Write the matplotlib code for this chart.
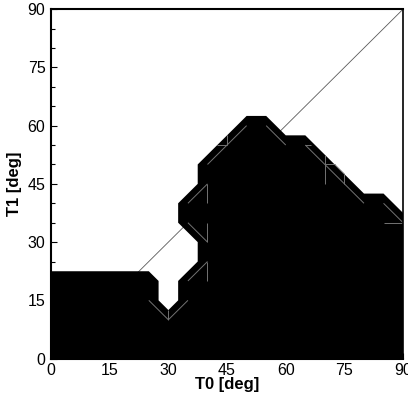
import numpy as np
import matplotlib
matplotlib.use('Agg')
import matplotlib.pyplot as plt
from matplotlib.collections import LineCollection
from matplotlib.ticker import MultipleLocator

plt.rcParams['font.family'] = ['Liberation Sans', 'DejaVu Sans']

# boundary of the filled region (T0, T1 in deg)
region_t0 = [0, 0, 25, 27.5, 27.5, 30, 32.5, 32.5, 37.5, 37.5, 32.5, 32.5, 37.5, 37.5,
             50, 55, 60, 65, 80, 85, 90, 90]
region_t1 = [0, 22.5, 22.5, 20, 15, 12.5, 15, 20, 25, 30, 35, 40, 45, 50,
             62.5, 62.5, 57.5, 57.5, 42.5, 42.5, 37.5, 0]

# faint mesh edges seen inside the fill
mesh_edges = [
    [(40, 50), (50, 60)], [(42.5, 55), (45, 55)], [(45, 55), (45, 57.5)],
    [(55, 60), (60, 55)], [(65, 55), (80, 40)], [(65, 55), (66.5, 55)],
    [(70, 52.5), (70, 45)], [(70, 50), (72.5, 50)], [(72.5, 50), (75, 47.5)],
    [(75, 47.5), (75, 45)],
    [(85, 40), (90, 35)], [(85, 35), (90, 35)],
    [(35, 40), (40, 45)], [(40, 45), (40, 40)],
    [(35, 35), (40, 30)], [(40, 35), (40, 30)],
    [(35, 20), (40, 25)], [(40, 25), (40, 20)],
    [(25, 15), (30, 10)], [(30, 10), (35, 15)], [(30, 12.5), (30, 10)],
]

diag = [0, 90]

fig = plt.figure(figsize=(4.08, 3.98), dpi=100)
ax = fig.add_axes([0.125, 0.099, 0.863, 0.878])

ax.plot(diag, diag, color='0.35', linewidth=0.6, zorder=1)
ax.fill(region_t0, region_t1, color='black', linewidth=0, zorder=2)
ax.add_collection(LineCollection(mesh_edges, colors='0.45', linewidths=0.7, zorder=3))

ax.set_xlim(0, 90)
ax.set_ylim(0, 90)
ax.xaxis.set_major_locator(MultipleLocator(15))
ax.yaxis.set_major_locator(MultipleLocator(15))
ax.yaxis.set_minor_locator(MultipleLocator(5))

for s in ax.spines.values():
    s.set_linewidth(1.5)
    s.set_zorder(5)
ax.spines['right'].set_linewidth(1.2)

ax.tick_params(axis='y', which='major', direction='in', length=4, width=0.8,
               labelsize=11.5, pad=4)
ax.tick_params(axis='y', which='minor', direction='in', length=3, width=0.8)
ax.tick_params(axis='x', which='major', direction='in', length=4, width=0.8,
               labelsize=11.5, pad=3)

ax.set_xlabel('T0 [deg]', fontsize=12, fontweight='bold')
ax.set_ylabel('T1 [deg]', fontsize=12, fontweight='bold')
ax.xaxis.set_label_coords(0.5, -0.052)
ax.yaxis.set_label_coords(-0.082, 0.5)

fig.savefig('out.png', dpi=100)
